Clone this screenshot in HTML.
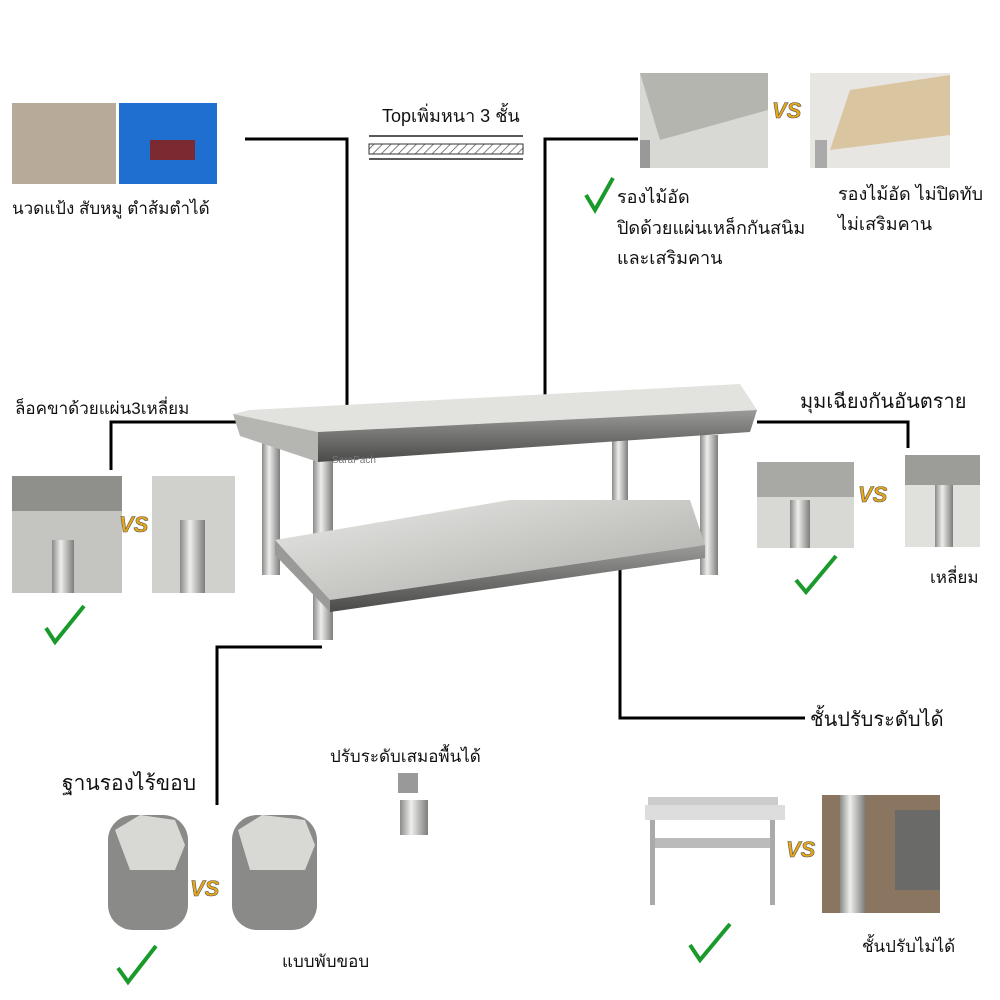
<!DOCTYPE html>
<html><head><meta charset="utf-8"><style>
html,body{margin:0;padding:0;background:#fff;}
svg{display:block}
text{font-family:"Liberation Sans","DejaVu Sans",sans-serif;fill:#111}
</style></head><body>
<svg width="1000" height="1000" viewBox="0 0 1000 1000" xmlns="http://www.w3.org/2000/svg">
<defs>
<linearGradient id="steel" x1="0" y1="0" x2="1" y2="1">
<stop offset="0" stop-color="#e8e8e6"/><stop offset="0.5" stop-color="#c9c9c6"/><stop offset="1" stop-color="#a9a9a6"/></linearGradient>
<linearGradient id="leg" x1="0" y1="0" x2="1" y2="0">
<stop offset="0" stop-color="#8a8a88"/><stop offset="0.4" stop-color="#eeeeec"/><stop offset="1" stop-color="#7d7d7b"/></linearGradient>
<linearGradient id="dark" x1="0" y1="0" x2="0" y2="1">
<stop offset="0" stop-color="#9a9a98"/><stop offset="1" stop-color="#4a4a48"/></linearGradient>
<pattern id="hatch" width="6" height="6" patternUnits="userSpaceOnUse" patternTransform="rotate(45)">
<line x1="0" y1="0" x2="0" y2="6" stroke="#555" stroke-width="1.5"/></pattern>
</defs>

<rect x="12" y="103" width="104" height="81" fill="#b8aa98"/>
<rect x="119" y="103" width="98" height="81" fill="#1f6fd0"/>
<rect x="150" y="140" width="45" height="20" fill="#7a2a30"/>
<text x="12" y="214" font-size="17">นวดแป้ง สับหมู ตำส้มตำได้</text>

<text x="382" y="122" font-size="18">Topเพิ่มหนา 3 ชั้น</text>
<line x1="369" y1="136" x2="523" y2="136" stroke="#222" stroke-width="1.5"/>
<rect x="369" y="144" width="154" height="10" fill="url(#hatch)" stroke="#333"/>
<line x1="369" y1="159" x2="523" y2="159" stroke="#222" stroke-width="1.5"/>

<rect x="640" y="73" width="128" height="95" fill="#d8d8d4"/>
<polygon points="640,73 768,73 768,110 660,140" fill="#b5b5b0"/>
<rect x="640" y="140" width="10" height="28" fill="#999"/>
<text x="772" y="118" font-size="22" font-weight="bold" font-style="italic" style="fill:#e8a818;stroke:#555;stroke-width:0.6">VS</text>
<rect x="810" y="73" width="140" height="95" fill="#e8e6e2"/>
<polygon points="850,90 950,75 950,135 830,150" fill="#d9c6a0"/>
<rect x="815" y="140" width="12" height="28" fill="#aaa"/>
<path d="M586 195 L595 210 L613 178" stroke="#1a9a2a" stroke-width="4" fill="none"/>
<text x="617" y="203" font-size="18">รองไม้อัด</text>
<text x="617" y="234" font-size="18">ปิดด้วยแผ่นเหล็กกันสนิม</text>
<text x="617" y="264" font-size="18">และเสริมคาน</text>
<text x="838" y="200" font-size="18">รองไม้อัด ไม่ปิดทับ</text>
<text x="838" y="230" font-size="18">ไม่เสริมคาน</text>

<path d="M245 139 H347 V425" stroke="#000" stroke-width="3" fill="none"/>
<path d="M638 139 H545 V410" stroke="#000" stroke-width="3" fill="none"/>
<path d="M240 422 H111 V470" stroke="#000" stroke-width="3" fill="none"/>
<path d="M757 422 H908 V448" stroke="#000" stroke-width="3" fill="none"/>
<path d="M620 560 V718 H805" stroke="#000" stroke-width="3" fill="none"/>
<path d="M322 647 H217 V805" stroke="#000" stroke-width="3" fill="none"/>

<rect x="262" y="435" width="18" height="140" fill="url(#leg)"/>
<rect x="612" y="420" width="16" height="110" fill="url(#leg)"/>
<rect x="700" y="435" width="18" height="140" fill="url(#leg)"/>
<rect x="313" y="455" width="20" height="185" fill="url(#leg)"/>
<polygon points="275,540 510,500 690,500 705,545 330,600" fill="url(#steel)"/>
<polygon points="275,540 330,600 330,612 275,555" fill="#9a9a98"/>
<polygon points="330,600 705,545 705,558 330,612" fill="url(#dark)"/>
<polygon points="233,414 250,410 740,384 757,410 318,432" fill="#e2e2df"/>
<polygon points="233,414 318,432 318,462 240,436" fill="#b5b5b2"/>
<polygon points="318,432 757,410 750,432 318,462" fill="url(#dark)"/>
<text x="332" y="463" font-size="10" style="fill:#777" font-family="Liberation Serif">SaraPach</text>

<text x="15" y="414" font-size="17">ล็อคขาด้วยแผ่น3เหลี่ยม</text>
<rect x="12" y="476" width="110" height="117" fill="#c4c4c0"/>
<rect x="12" y="476" width="110" height="35" fill="#8f8f8c"/>
<rect x="52" y="540" width="22" height="53" fill="url(#leg)"/>
<text x="119" y="532" font-size="22" font-weight="bold" font-style="italic" style="fill:#e8a818;stroke:#555;stroke-width:0.6">VS</text>
<rect x="152" y="476" width="83" height="117" fill="#d0d0cc"/>
<rect x="180" y="520" width="25" height="73" fill="url(#leg)"/>
<path d="M46 628 L55 642 L84 606" stroke="#1a9a2a" stroke-width="4" fill="none"/>

<text x="800" y="408" font-size="20">มุมเฉียงกันอันตราย</text>
<rect x="757" y="462" width="97" height="86" fill="#d8d8d4"/>
<rect x="757" y="462" width="97" height="35" fill="#a8a8a4"/>
<rect x="790" y="500" width="20" height="48" fill="url(#leg)"/>
<text x="858" y="502" font-size="22" font-weight="bold" font-style="italic" style="fill:#e8a818;stroke:#555;stroke-width:0.6">VS</text>
<rect x="905" y="455" width="75" height="92" fill="#e0e0dc"/>
<rect x="905" y="455" width="75" height="30" fill="#9c9c98"/>
<rect x="935" y="485" width="18" height="62" fill="url(#leg)"/>
<path d="M796 580 L806 592 L836 556" stroke="#1a9a2a" stroke-width="4" fill="none"/>
<text x="930" y="583" font-size="17">เหลี่ยม</text>
<text x="810" y="726" font-size="20">ชั้นปรับระดับได้</text>

<text x="62" y="790" font-size="21">ฐานรองไร้ขอบ</text>
<rect x="108" y="815" width="80" height="115" rx="25" fill="#8a8a88"/>
<polygon points="115,830 140,815 175,820 185,845 175,870 130,870" fill="#d8d8d4"/>
<text x="190" y="896" font-size="22" font-weight="bold" font-style="italic" style="fill:#e8a818;stroke:#555;stroke-width:0.6">VS</text>
<rect x="232" y="815" width="85" height="115" rx="25" fill="#8a8a88"/>
<polygon points="238,830 262,815 305,820 315,845 305,870 250,870" fill="#d8d8d4"/>
<path d="M118 968 L128 982 L156 946" stroke="#1a9a2a" stroke-width="4" fill="none"/>
<text x="282" y="967" font-size="17">แบบพับขอบ</text>

<text x="330" y="762" font-size="17">ปรับระดับเสมอพื้นได้</text>
<rect x="398" y="773" width="20" height="20" fill="#999"/>
<rect x="400" y="800" width="28" height="35" fill="url(#leg)"/>

<rect x="648" y="797" width="130" height="8" fill="#ccc"/>
<rect x="645" y="805" width="140" height="15" fill="#ddd"/>
<rect x="650" y="820" width="5" height="85" fill="#aaa"/>
<rect x="770" y="820" width="5" height="85" fill="#aaa"/>
<rect x="655" y="838" width="115" height="10" fill="#bbb"/>
<text x="786" y="857" font-size="22" font-weight="bold" font-style="italic" style="fill:#e8a818;stroke:#555;stroke-width:0.6">VS</text>
<rect x="822" y="795" width="118" height="118" fill="#8a7560"/>
<rect x="840" y="795" width="25" height="118" fill="url(#leg)"/>
<rect x="895" y="810" width="45" height="80" fill="#6a6a68"/>
<path d="M690 945 L700 960 L730 924" stroke="#1a9a2a" stroke-width="4" fill="none"/>
<text x="862" y="952" font-size="17">ชั้นปรับไม่ได้</text>
</svg>
</body></html>
